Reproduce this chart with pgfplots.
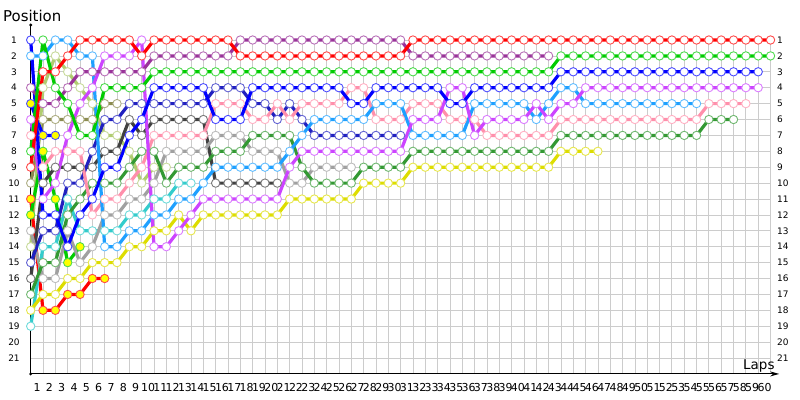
\documentclass[border=0pt]{standalone}
\usepackage{fontspec}
\setmainfont{DejaVu Sans}
\usepackage{pgfplots}
\pgfplotsset{compat=1.18}
\usetikzlibrary{arrows.meta}

\definecolor{cRed}{HTML}{FF0000}
\definecolor{cPur}{HTML}{993399}
\definecolor{cGrn}{HTML}{00CC00}
\definecolor{cBlu}{HTML}{0000FF}
\definecolor{cVio}{HTML}{CC44FF}
\definecolor{cLbl}{HTML}{1EA0FF}
\definecolor{cPnk}{HTML}{FF8FAB}
\definecolor{cDgr}{HTML}{339933}
\definecolor{cYel}{HTML}{DDDD00}
\definecolor{cDgy}{HTML}{404040}
\definecolor{cGry}{HTML}{A0A0A0}
\definecolor{cCyn}{HTML}{33CCCC}
\definecolor{cNav}{HTML}{2020C0}
\definecolor{cOlv}{HTML}{8B8B50}
\definecolor{cPol}{HTML}{B0CC70}
\definecolor{cFill}{HTML}{FFFF00}

\pgfplotsset{
  drv/.style 2 args={line width=3.2bp, line join=round, color=#1, mark=*, mark size=4.2bp,
    mark options={solid, fill=#2, draw=#1!70!white, line width=0.9bp}},
}

\begin{document}
\begin{tikzpicture}
\begin{axis}[
  scale only axis, width=739.8bp, height=333.9bp,
  xmin=0, xmax=60, ymin=1, ymax=22, y dir=reverse,
  axis line style={draw=none},
  xtick={1,...,60}, ytick={1,...,21},
  major tick length=0pt,
  grid=major, major grid style={draw=black!20, line width=0.8bp},
  /pgf/number format/assume math mode=true,
  xticklabel style={font=\fontsize{11}{12}\selectfont, inner sep=0pt, anchor=center, yshift=-14bp, xshift=-6bp},
  yticklabel style={font=\fontsize{9}{10}\selectfont, inner sep=0pt, anchor=center, xshift=-16.7bp},
  clip=false,
]
\path (axis cs:-2.49,-1.516) rectangle (axis cs:62.39,23.64);
\draw[line width=1bp] (axis cs:0,22) -- (axis cs:0,0.057);
\fill (axis cs:0,0.057) circle[radius=1.6bp];
\draw[line width=1bp, -{Stealth[length=9bp,width=5bp]}] (axis cs:0,22) -- (axis cs:60.7,22);
\fill (axis cs:0,22) circle[radius=1.6bp];
\node[anchor=west, font=\fontsize{15}{18}\selectfont, inner sep=0pt] at (axis cs:-2.25,-0.54) {Position};
\node[anchor=base west, font=\fontsize{13.5}{16}\selectfont, inner sep=0pt] at (axis cs:57.77,21.75) {Laps};

% olive
\addplot[drv={cOlv}{white}] coordinates {(0,10)(1,6)(2,6)(3,6)(4,6)(5,6)(6,5)(7,5)};
% pale olive
\addplot[drv={cPol}{white}] coordinates {(0,14)(1,4)(2,2)(3,3)(4,4)(5,5)(6,7)(7,7)(8,8)(9,10)(10,9)(11,9)};
% retired early (yellow fill)
\addplot[drv={cRed}{cFill}] coordinates {(0,11)(1,18)(2,18)(3,17)(4,17)(5,16)(6,16)};
\addplot[drv={cGrn}{cFill}] coordinates {(0,12)(1,8)(2,11)(3,15)(4,14)};
\addplot[drv={cBlu}{cFill}] coordinates {(0,5)(1,7)(2,7)};
% cyan
\addplot[drv={cCyn}{white}] coordinates {(0,19)(1,14)(2,14)(3,11)(4,13)(5,13)(6,13)(7,13)(8,12)(9,12)(10,11)(11,11)(12,10)(13,10)};
% dark grey
\addplot[drv={cDgy}{white}] coordinates {(0,16)(1,10)(2,9)(3,9)(4,9)(5,9)(6,8)(7,8)(8,6)(9,7)(10,6)(11,6)(12,6)(13,6)(14,6)(15,10)(16,10)(17,10)(18,10)(19,10)(20,10)};
% grey
\addplot[drv={cGry}{white}] coordinates {(0,13)(1,16)(2,16)(3,13)(4,15)(5,14)(6,12)(7,12)(8,11)(9,11)(10,10)(11,8)(12,8)(13,8)(14,8)(15,7)(16,7)(17,7)(18,8)(19,8)(20,8)(21,10)(22,10)(23,9)(24,9)(25,9)(26,9)};
% navy
\addplot[drv={cNav}{white}] coordinates {(0,15)(1,13)(2,13)(3,10)(4,10)(5,8)(6,6)(7,6)(8,5)(9,5)(10,5)(11,5)(12,5)(13,5)(14,5)(15,4)(16,4)(17,4)(18,5)(19,5)(20,6)(21,5)(22,6)(23,7)(24,7)(25,7)(26,7)(27,7)(28,7)(29,7)(30,7)};
% yellow
\addplot[drv={cYel}{white}] coordinates {(0,18)(1,17)(2,17)(3,16)(4,16)(5,15)(6,15)(7,15)(8,14)(9,14)(10,13)(11,13)(12,12)(13,13)(14,12)(15,12)(16,12)(17,12)(18,12)(19,12)(20,12)(21,11)(22,11)(23,11)(24,11)(25,11)(26,11)(27,10)(28,10)(29,10)(30,10)(31,9)(32,9)(33,9)(34,9)(35,9)(36,9)(37,9)(38,9)(39,9)(40,9)(41,9)(42,9)(43,8)(44,8)(45,8)(46,8)};
% dark green
\addplot[drv={cDgr}{white}] coordinates {(0,17)(1,15)(2,15)(3,12)(4,11)(5,10)(6,10)(7,10)(8,9)(9,8)(10,8)(11,10)(12,9)(13,9)(14,9)(15,8)(16,8)(17,8)(18,7)(19,7)(20,7)(21,7)(22,9)(23,10)(24,10)(25,10)(26,10)(27,9)(28,9)(29,9)(30,9)(31,8)(32,8)(33,8)(34,8)(35,8)(36,8)(37,8)(38,8)(39,8)(40,8)(41,8)(42,8)(43,7)(44,7)(45,7)(46,7)(47,7)(48,7)(49,7)(50,7)(51,7)(52,7)(53,7)(54,7)(55,6)(56,6)(57,6)};
% pink
\addplot[drv={cPnk}{white}] coordinates {(0,7)(1,9)(2,8)(3,8)(4,8)(5,12)(6,11)(7,11)(8,10)(9,9)(10,7)(11,7)(12,7)(13,7)(14,7)(15,5)(16,5)(17,5)(18,6)(19,6)(20,5)(21,6)(22,5)(23,5)(24,5)(25,5)(26,4)(27,4)(28,6)(29,6)(30,6)(31,5)(32,5)(33,5)(34,6)(35,6)(36,6)(37,7)(38,7)(39,7)(40,7)(41,7)(42,7)(43,6)(44,6)(45,6)(46,6)(47,6)(48,6)(49,6)(50,6)(51,6)(52,6)(53,6)(54,6)(55,5)(56,5)(57,5)(58,5)};
% light blue
\addplot[drv={cLbl}{white}] coordinates {(0,2)(1,2)(2,1)(3,1)(4,2)(5,2)(6,14)(7,14)(8,13)(9,13)(10,12)(11,12)(12,11)(13,11)(14,10)(15,9)(16,9)(17,9)(18,9)(19,9)(20,9)(21,8)(22,7)(23,6)(24,6)(25,6)(26,6)(27,6)(28,5)(29,5)(30,5)(31,7)(32,7)(33,7)(34,7)(35,7)(36,5)(37,5)(38,5)(39,5)(40,5)(41,6)(42,5)(43,4)(44,4)(45,5)(46,5)(47,5)(48,5)(49,5)(50,5)(51,5)(52,5)(53,5)(54,5)};
% violet
\addplot[drv={cVio}{white}] coordinates {(0,6)(1,11)(2,10)(3,7)(4,5)(5,4)(6,2)(7,2)(8,2)(9,1)(10,14)(11,14)(12,13)(13,12)(14,11)(15,11)(16,11)(17,11)(18,11)(19,11)(20,11)(21,9)(22,8)(23,8)(24,8)(25,8)(26,8)(27,8)(28,8)(29,8)(30,8)(31,6)(32,6)(33,6)(34,4)(35,4)(36,7)(37,6)(38,6)(39,6)(40,6)(41,5)(42,6)(43,5)(44,5)(45,4)(46,4)(47,4)(48,4)(49,4)(50,4)(51,4)(52,4)(53,4)(54,4)(55,4)(56,4)(57,4)(58,4)(59,4)};
% blue
\addplot[drv={cBlu}{white}] coordinates {(0,1)(1,12)(2,12)(3,14)(4,12)(5,11)(6,9)(7,9)(8,7)(9,6)(10,4)(11,4)(12,4)(13,4)(14,4)(15,6)(16,6)(17,6)(18,4)(19,4)(20,4)(21,4)(22,4)(23,4)(24,4)(25,4)(26,5)(27,5)(28,4)(29,4)(30,4)(31,4)(32,4)(33,4)(34,5)(35,5)(36,4)(37,4)(38,4)(39,4)(40,4)(41,4)(42,4)(43,3)(44,3)(45,3)(46,3)(47,3)(48,3)(49,3)(50,3)(51,3)(52,3)(53,3)(54,3)(55,3)(56,3)(57,3)(58,3)(59,3)};
% purple
\addplot[drv={cPur}{white}] coordinates {(0,4)(1,5)(2,5)(3,4)(4,3)(5,3)(6,3)(7,3)(8,3)(9,3)(10,2)(11,2)(12,2)(13,2)(14,2)(15,2)(16,2)(17,1)(18,1)(19,1)(20,1)(21,1)(22,1)(23,1)(24,1)(25,1)(26,1)(27,1)(28,1)(29,1)(30,1)(31,2)(32,2)(33,2)(34,2)(35,2)(36,2)(37,2)(38,2)(39,2)(40,2)(41,2)(42,2)};
% green
\addplot[drv={cGrn}{white}] coordinates {(0,8)(1,1)(2,4)(3,5)(4,7)(5,7)(6,4)(7,4)(8,4)(9,4)(10,3)(11,3)(12,3)(13,3)(14,3)(15,3)(16,3)(17,3)(18,3)(19,3)(20,3)(21,3)(22,3)(23,3)(24,3)(25,3)(26,3)(27,3)(28,3)(29,3)(30,3)(31,3)(32,3)(33,3)(34,3)(35,3)(36,3)(37,3)(38,3)(39,3)(40,3)(41,3)(42,3)(43,2)(44,2)(45,2)(46,2)(47,2)(48,2)(49,2)(50,2)(51,2)(52,2)(53,2)(54,2)(55,2)(56,2)(57,2)(58,2)(59,2)(60,2)};
% red
\addplot[drv={cRed}{white}] coordinates {(0,9)(1,3)(2,3)(3,2)(4,1)(5,1)(6,1)(7,1)(8,1)(9,2)(10,1)(11,1)(12,1)(13,1)(14,1)(15,1)(16,1)(17,2)(18,2)(19,2)(20,2)(21,2)(22,2)(23,2)(24,2)(25,2)(26,2)(27,2)(28,2)(29,2)(30,2)(31,1)(32,1)(33,1)(34,1)(35,1)(36,1)(37,1)(38,1)(39,1)(40,1)(41,1)(42,1)(43,1)(44,1)(45,1)(46,1)(47,1)(48,1)(49,1)(50,1)(51,1)(52,1)(53,1)(54,1)(55,1)(56,1)(57,1)(58,1)(59,1)(60,1)};
\end{axis}
\begin{axis}[
  scale only axis, width=739.8bp, height=333.9bp,
  xmin=0, xmax=60, ymin=1, ymax=22, y dir=reverse,
  axis line style={draw=none},
  xtick=\empty, ytick={1,...,21},
  major tick length=0pt,
  yticklabel pos=right,
  /pgf/number format/assume math mode=true,
  yticklabel style={font=\fontsize{9}{10}\selectfont, inner sep=0pt, anchor=west, xshift=6.5bp},
]
\end{axis}
\end{tikzpicture}
\end{document}
